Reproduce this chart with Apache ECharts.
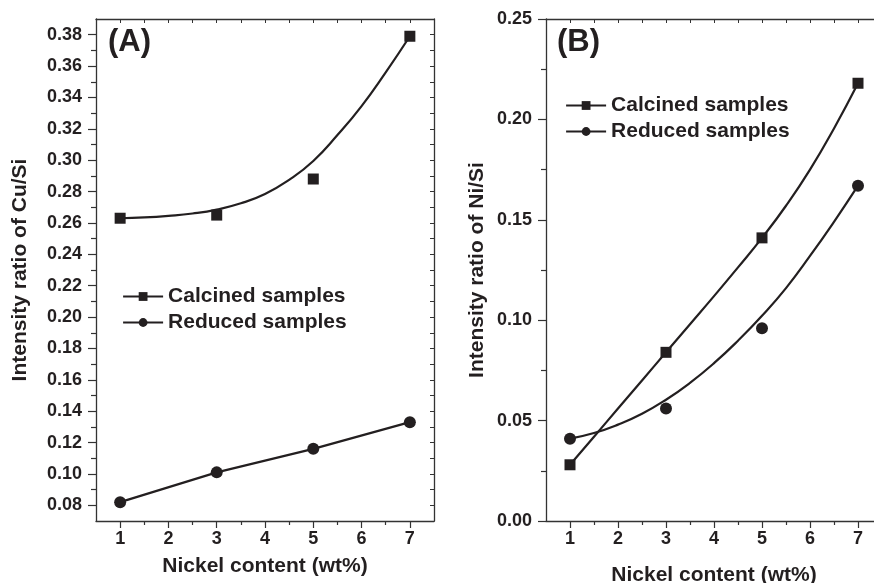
<!DOCTYPE html>
<html>
<head>
<meta charset="utf-8">
<script src="https://cdn.jsdelivr.net/npm/echarts@6/dist/echarts.min.js"></script>
<style>
  html, body { margin: 0; padding: 0; background: #fff; }
  #chart { width: 874px; height: 583px; }
</style>
</head>
<body>
<div id="chart"></div>
<script>
// Nickel loading of the samples (wt%)
const nickel = [1, 3, 5, 7];

// Panel A: Cu/Si intensity ratio
const cuCalcined = [0.263, 0.265, 0.288, 0.379];
const cuReduced = [0.082, 0.101, 0.116, 0.133];
// trend curve drawn through the calcined Cu/Si points
const cuFitX = [1, 1.5, 2, 2.5, 3, 3.5, 4, 4.5, 5, 5.5, 6, 6.5, 7];
const cuFitCalcined = [0.263, 0.2635, 0.2645, 0.2660, 0.2685, 0.2725, 0.2785, 0.2875, 0.2995, 0.3160, 0.3345, 0.3560, 0.379];

// Panel B: Ni/Si intensity ratio
const niCalcined = [0.028, 0.084, 0.141, 0.218];
const niReduced = [0.041, 0.056, 0.096, 0.167];
// trend curves for the Ni/Si points
const niFitX = [1, 1.5, 2, 2.5, 3, 3.5, 4, 4.5, 5, 5.5, 6, 6.5, 7];
const niFitCalcined = [0.028, 0.042, 0.056, 0.070, 0.084, 0.098, 0.112, 0.1263, 0.141, 0.1570, 0.1750, 0.1955, 0.218];
const niFitReduced = [0.041, 0.0438, 0.0480, 0.0534, 0.0604, 0.0688, 0.0786, 0.0898, 0.1022, 0.1160, 0.1320, 0.1490, 0.167];

// Axis ticks and labels
const xTicks = ['1', '2', '3', '4', '5', '6', '7'];
const yTicksA = ['0.08', '0.10', '0.12', '0.14', '0.16', '0.18', '0.20', '0.22', '0.24', '0.26', '0.28', '0.30', '0.32', '0.34', '0.36', '0.38'];
const yTicksB = ['0.00', '0.05', '0.10', '0.15', '0.20', '0.25'];
const seriesNames = ['Calcined samples', 'Reduced samples'];
const panelTags = ['(A)', '(B)'];
const xTitle = 'Nickel content (wt%)';
const yTitles = ['Intensity ratio of Cu/Si', 'Intensity ratio of Ni/Si'];

const FONT = '"Liberation Sans", Arial, sans-serif';
const INK = '#231f20';
const FRAME = '#333333';

const pairs = (xs, ys) => xs.map((x, i) => [x, ys[i]]);
const nums = arr => arr.map(Number);

function bottomAxis(grid, nameGap) {
  return {
    type: 'value', gridIndex: grid, position: 'bottom',
    min: 0.5, max: 7.5, splitNumber: 7, minInterval: 1, maxInterval: 1,
    name: xTitle, nameLocation: 'middle', nameGap: nameGap, nameMoveOverlap: false,
    nameTextStyle: { fontFamily: FONT, fontWeight: 'bold', fontSize: 21, color: INK },
    axisLine: { show: true, onZero: false, lineStyle: { color: FRAME, width: 1.3 } },
    axisTick: { show: true, inside: false, length: 7, customValues: nums(xTicks), lineStyle: { color: FRAME, width: 1.2 } },
    minorTick: { show: true, splitNumber: 2, length: 4, lineStyle: { color: FRAME, width: 1.2 } },
    axisLabel: { customValues: nums(xTicks), margin: 9, fontFamily: FONT, fontWeight: 'bold', fontSize: 18, color: INK,
                 formatter: v => String(Math.round(v)) },
    splitLine: { show: false }
  };
}
function topAxis(grid) {
  return {
    type: 'value', gridIndex: grid, position: 'top',
    min: 0.5, max: 7.5, splitNumber: 7, minInterval: 1, maxInterval: 1,
    axisLine: { show: true, onZero: false, lineStyle: { color: FRAME, width: 1.3 } },
    axisTick: { show: true, inside: true, length: 4, customValues: nums(xTicks), lineStyle: { color: FRAME, width: 1 } },
    minorTick: { show: true, splitNumber: 2, length: 4, lineStyle: { color: FRAME, width: 1 } },
    axisLabel: { show: false },
    splitLine: { show: false }
  };
}

const yAxisA = {
  type: 'value', gridIndex: 0, position: 'left',
  min: 0.07, max: 0.39, splitNumber: 16, minInterval: 0.02, maxInterval: 0.02,
  name: yTitles[0], nameLocation: 'middle', nameGap: 65, nameMoveOverlap: false,
  nameTextStyle: { fontFamily: FONT, fontWeight: 'bold', fontSize: 21, color: INK },
  axisLine: { show: true, onZero: false, lineStyle: { color: FRAME, width: 1.3 } },
  axisTick: { show: true, inside: false, length: 8, customValues: nums(yTicksA), lineStyle: { color: FRAME, width: 1.2 } },
  minorTick: { show: true, splitNumber: 2, length: 5, lineStyle: { color: FRAME, width: 1.2 } },
  axisLabel: { customValues: nums(yTicksA), margin: 14, fontFamily: FONT, fontWeight: 'bold', fontSize: 18, color: INK,
               formatter: v => v.toFixed(2) },
  splitLine: { show: false }
};
const yAxisARight = {
  type: 'value', gridIndex: 0, position: 'right',
  min: 0.07, max: 0.39, splitNumber: 16, minInterval: 0.02, maxInterval: 0.02,
  axisLine: { show: true, onZero: false, lineStyle: { color: FRAME, width: 1.3 } },
  axisTick: { show: true, inside: true, length: 4, customValues: nums(yTicksA), lineStyle: { color: FRAME, width: 1 } },
  minorTick: { show: true, splitNumber: 2, length: 4, lineStyle: { color: FRAME, width: 1 } },
  axisLabel: { show: false },
  splitLine: { show: false }
};
const yAxisB = {
  type: 'value', gridIndex: 1, position: 'left',
  min: 0, max: 0.25, interval: 0.05,
  name: yTitles[1], nameLocation: 'middle', nameGap: 58, nameMoveOverlap: false,
  nameTextStyle: { fontFamily: FONT, fontWeight: 'bold', fontSize: 21, color: INK },
  axisLine: { show: true, onZero: false, lineStyle: { color: FRAME, width: 1.3 } },
  axisTick: { show: true, inside: false, length: 8, customValues: nums(yTicksB), lineStyle: { color: FRAME, width: 1.2 } },
  minorTick: { show: true, splitNumber: 2, length: 5, lineStyle: { color: FRAME, width: 1.2 } },
  axisLabel: { customValues: nums(yTicksB), margin: 14, fontFamily: FONT, fontWeight: 'bold', fontSize: 18, color: INK,
               formatter: v => v.toFixed(2) },
  splitLine: { show: false }
};
const yAxisBRight = {
  type: 'value', gridIndex: 1, position: 'right',
  min: 0, max: 0.25, interval: 0.05,
  axisLine: { show: true, onZero: false, lineStyle: { color: FRAME, width: 1.3 } },
  axisTick: { show: true, inside: true, length: 4, lineStyle: { color: FRAME, width: 1 } },
  minorTick: { show: true, splitNumber: 2, length: 4, lineStyle: { color: FRAME, width: 1 } },
  axisLabel: { show: false },
  splitLine: { show: false }
};

const lineW = 2.2;
function markers(name, xi, yi, xs, ys, symbol, size) {
  return {
    name: name, type: 'line', xAxisIndex: xi, yAxisIndex: yi,
    data: pairs(xs, ys), symbol: symbol, symbolSize: size, showSymbol: true,
    itemStyle: { color: INK }, lineStyle: { width: 0, opacity: 0 },
    emphasis: { disabled: true }, z: 4
  };
}
function curve(name, xi, yi, xs, ys, smooth) {
  return {
    name: name, type: 'line', xAxisIndex: xi, yAxisIndex: yi,
    data: pairs(xs, ys), showSymbol: false, symbol: 'none', smooth: smooth,
    lineStyle: { color: INK, width: lineW }, itemStyle: { color: INK },
    emphasis: { disabled: true }, z: 3
  };
}

const legendCommon = {
  orient: 'vertical', padding: 0, itemGap: 5, itemWidth: 40, itemHeight: 11,
  selectedMode: false, data: seriesNames,
  textStyle: { fontFamily: FONT, fontWeight: 'bold', fontSize: 21, lineHeight: 21, color: INK },
  lineStyle: { color: INK, width: lineW, opacity: 1, type: 'solid' },
  itemStyle: { color: INK, opacity: 1 }
};

const option = {
  animation: false,
  backgroundColor: '#ffffff',
  grid: [
    { left: 96, top: 19, right: 440, bottom: 62, outerBoundsMode: 'none', containLabel: false },
    { left: 546, top: 19, right: -8, bottom: 62, outerBoundsMode: 'none', containLabel: false }
  ],
  xAxis: [bottomAxis(0, 35), topAxis(0), bottomAxis(1, 44), topAxis(1)],
  yAxis: [yAxisA, yAxisARight, yAxisB, yAxisBRight],
  legend: [
    Object.assign({}, legendCommon, { left: 122, top: 286 }),
    Object.assign({}, legendCommon, { left: 565, top: 95 })
  ],
  graphic: [
    { type: 'text', x: 108, y: 42, style: { text: panelTags[0], font: 'bold 31px ' + FONT, fill: INK, verticalAlign: 'middle' } },
    { type: 'text', x: 557, y: 42, style: { text: panelTags[1], font: 'bold 31px ' + FONT, fill: INK, verticalAlign: 'middle' } }
  ],
  series: [
    markers(seriesNames[0], 0, 0, nickel, cuCalcined, 'rect', 11),
    curve('cuCalcinedTrend', 0, 0, cuFitX, cuFitCalcined, 0.5),
    {
      name: seriesNames[1], type: 'line', xAxisIndex: 0, yAxisIndex: 0,
      data: pairs(nickel, cuReduced), symbol: 'circle', symbolSize: 12, showSymbol: true,
      itemStyle: { color: INK }, lineStyle: { color: INK, width: lineW },
      emphasis: { disabled: true }, z: 4
    },
    markers(seriesNames[0], 2, 2, nickel, niCalcined, 'rect', 11),
    curve('niCalcinedTrend', 2, 2, niFitX, niFitCalcined, 0.5),
    markers(seriesNames[1], 2, 2, nickel, niReduced, 'circle', 12),
    curve('niReducedTrend', 2, 2, niFitX, niFitReduced, 0.5)
  ]
};

const chart = echarts.init(document.getElementById('chart'), null, { renderer: 'canvas' });
chart.setOption(option);
</script>
</body>
</html>
